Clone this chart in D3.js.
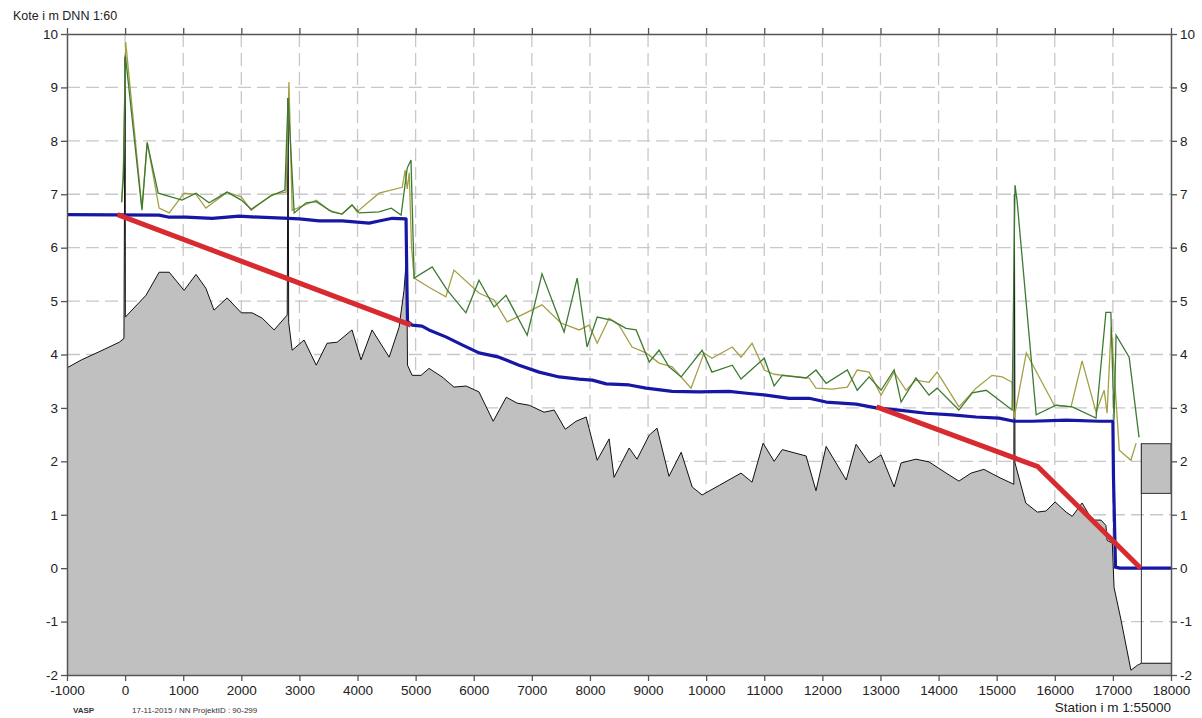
<!DOCTYPE html>
<html>
<head>
<meta charset="utf-8">
<script src="https://cdn.jsdelivr.net/npm/d3@7"></script>
<style>
  html, body { margin: 0; padding: 0; background: #fff; }
  svg { display: block; font-family: "Liberation Sans", Arial, sans-serif; }
</style>
</head>
<body>
<svg id="chart" width="1202" height="718"></svg>
<script>
// Longitudinal profile: station (m) vs. elevation (m DNN)

const stationTicks = d3.range(-1000, 18001, 1000);
const levelTicks = d3.range(-2, 11, 1);

// Terrain / river bed, including bridge structures as narrow spikes
const terrain = [
  [-1000,3.75],[-750,3.9],[-450,4.05],[-100,4.23],[-20,4.3],[0,9.57],[4,4.7],
  [360,5.11],[585,5.54],[760,5.54],[1015,5.2],[1220,5.5],[1390,5.24],[1530,4.83],
  [1755,5.06],[2000,4.78],[2185,4.78],[2360,4.68],[2565,4.46],[2790,4.74],
  [2805,8.8],[2815,4.6],[2875,4.08],[3080,4.27],[3290,3.8],[3475,4.21],[3650,4.23],
  [3905,4.46],[4060,3.9],[4250,4.46],[4545,3.95],[4715,4.51],[4800,5.2],[4845,5.85],
  [4860,3.8],[4940,3.61],[5095,3.61],[5230,3.74],[5455,3.58],[5660,3.39],[5870,3.41],
  [6090,3.30],[6335,2.75],[6560,3.20],[6745,3.09],[6955,3.05],[7210,2.92],[7385,2.96],
  [7575,2.60],[7760,2.75],[7935,2.83],[8125,2.02],[8330,2.42],[8415,1.70],[8675,2.25],
  [8810,2.04],[9020,2.49],[9155,2.62],[9360,1.72],[9570,2.17],[9760,1.52],[9930,1.37],
  [10225,1.55],[10600,1.78],[10790,1.61],[10980,2.34],[11170,2.00],[11310,2.22],
  [11720,2.10],[11890,1.45],[12065,2.28],[12410,1.65],[12580,2.32],[12805,1.97],
  [13010,2.12],[13235,1.52],[13355,1.97],[13610,2.04],[13835,1.99],[14130,1.78],
  [14350,1.63],[14560,1.78],[14780,1.85],[15040,1.70],[15295,1.57],[15305,7.0],
  [15315,1.97],[15500,1.22],[15700,1.05],[15850,1.07],[16005,1.24],[16195,1.05],
  [16300,0.97],[16470,1.22],[16645,0.90],[16795,0.90],[16880,0.80],[16900,0.52],
  [16990,0.47],[17020,-0.36],[17140,-0.97],[17310,-1.91],[17420,-1.82],[17490,-1.78],
  [18000,-1.78]
];

// Computed water level
const waterLevel = [
  [-1000,6.62],[585,6.61],[760,6.57],[1050,6.57],[1500,6.55],[1960,6.59],[2300,6.57],
  [2820,6.55],[3000,6.54],[3340,6.50],[3735,6.50],[4200,6.46],[4370,6.50],[4600,6.55],
  [4835,6.54],[4850,5.3],[4860,4.62],[4940,4.55],[5110,4.53],[5230,4.46],[5520,4.33],
  [5800,4.18],[6090,4.03],[6435,3.95],[6780,3.80],[7125,3.67],[7470,3.58],[7815,3.54],
  [8040,3.52],[8280,3.45],[8675,3.43],[8965,3.37],[9415,3.31],[9880,3.30],[10395,3.31],
  [10740,3.27],[11030,3.24],[11430,3.18],[11770,3.18],[12065,3.11],[12580,3.07],
  [12925,3.00],[13320,2.96],[13785,2.90],[14230,2.87],[14645,2.83],[15040,2.81],
  [15300,2.75],[15610,2.75],[16195,2.77],[16760,2.75],[17000,2.75],[17010,1.7],
  [17045,0.02],[17120,0.0],[18000,0.0]
];

// Design gradient lines
const gradientUpper = [[-130,6.62],[4920,4.55]];
const gradientLower = [[12930,3.02],[15710,1.90],[17480,0.0]];

// Left bank crest
const bankLeft = [
  [-60,6.85],[-30,7.3],[5,9.6],[290,6.70],[380,7.96],[570,7.02],[980,6.89],[1220,7.02],
  [1445,6.84],[1755,7.04],[2000,6.89],[2170,6.72],[2530,6.98],[2750,7.08],[2805,8.8],
  [2910,6.65],[3115,6.84],[3290,6.86],[3560,6.67],[3735,6.63],[3905,6.80],[4030,6.65],
  [4370,6.67],[4580,6.74],[4750,6.61],[4855,7.49],[4920,7.64],[4975,5.43],[5285,5.64],
  [5540,5.21],[5865,4.78],[6090,5.39],[6350,4.89],[6555,5.11],[6920,4.36],[7175,5.51],
  [7555,4.42],[7780,5.43],[7950,4.14],[8125,4.70],[8380,4.64],[8620,4.49],[8795,4.46],
  [9020,3.86],[9190,4.08],[9360,3.77],[9570,3.58],[9930,4.08],[10100,3.67],[10450,3.80],
  [10600,3.54],[11000,3.93],[11170,3.41],[11310,3.61],[11720,3.56],[11890,3.71],
  [12065,3.46],[12430,3.71],[12600,3.33],[12805,3.58],[13010,3.33],[13235,3.71],
  [13355,3.11],[13610,3.56],[13835,3.24],[13975,3.37],[14350,2.96],[14580,3.28],
  [14820,3.33],[15040,3.15],[15265,2.96],[15315,7.17],[15350,6.89],[15680,2.87],
  [16020,3.05],[16300,3.02],[16710,2.81],[16880,4.79],[16965,4.79],[17020,2.77],
  [17055,4.36],[17280,3.95],[17450,2.45]
];

// Right bank crest
const bankRight = [
  [-60,6.85],[-30,7.5],[10,9.85],[290,6.74],[380,7.98],[585,6.74],[760,6.65],[1015,7.02],
  [1220,7.00],[1390,6.74],[1755,7.04],[2000,6.95],[2170,6.70],[2530,7.00],[2770,7.04],
  [2820,9.10],[2875,6.70],[3290,6.89],[3510,6.70],[3735,6.63],[3905,6.80],[3990,6.67],
  [4370,7.02],[4770,7.13],[4820,7.45],[4855,7.1],[4890,7.4],[4930,6.0],[4975,5.43],
  [5230,5.26],[5520,5.08],[5660,5.58],[6090,5.15],[6350,5.02],[6575,4.61],[6900,4.78],
  [7175,4.93],[7500,4.59],[7815,4.46],[7985,4.55],[8125,4.21],[8330,4.68],[8500,4.55],
  [8725,4.14],[8965,4.03],[9190,3.84],[9415,3.77],[9740,3.37],[9965,4.03],[10100,3.93],
  [10450,4.14],[10600,3.95],[10790,4.21],[11000,3.71],[11170,3.63],[11770,3.56],
  [11890,3.37],[12170,3.35],[12430,3.39],[12600,3.71],[12805,3.67],[13010,3.24],
  [13235,3.67],[13440,3.33],[13610,3.52],[13835,3.48],[13975,3.67],[14350,3.02],
  [14645,3.37],[14920,3.61],[15095,3.58],[15265,3.48],[15300,2.81],[15510,4.03],
  [15990,3.05],[16280,3.02],[16470,3.88],[16710,2.92],[16850,3.33],[16900,2.90],
  [16970,4.51],[17020,3.71],[17110,2.21],[17310,2.02],[17400,2.34]
];

// Outlet structure at the downstream end: [station from, station to, bottom, top]
const outletBox = [17490, 18000, 1.4, 2.33];
const outletWall = [17490, -1.78, 2.33];

const svg = d3.select("#chart");
const plotLeft = 67, plotRight = 1171, plotTop = 34, plotBottom = 675;

const x = d3.scaleLinear().domain([-1000, 18000]).range([plotLeft, plotRight]);
const y = d3.scaleLinear().domain([-2, 10]).range([plotBottom, plotTop]);

// Plain integer labels with an ASCII hyphen for negatives
const intLabel = d => String(d);

// Dashed grid
const grid = svg.append("g").attr("stroke", "#c8c8c8").attr("stroke-width", 1.3)
  .attr("stroke-dasharray", "13,6");
grid.selectAll("line.v").data(stationTicks.slice(1, -1)).join("line").attr("class", "v")
  .attr("x1", d => x(d)).attr("x2", d => x(d)).attr("y1", plotTop).attr("y2", plotBottom);
grid.selectAll("line.h").data(levelTicks.slice(1, -1)).join("line").attr("class", "h")
  .attr("x1", plotLeft).attr("x2", plotRight).attr("y1", d => y(d)).attr("y2", d => y(d));

// Terrain
const area = d3.area().x(d => x(d[0])).y0(y(-2)).y1(d => y(d[1]));
const line = d3.line().x(d => x(d[0])).y(d => y(d[1]));

svg.append("path").datum(terrain).attr("d", area).attr("fill", "#c0c0c0");
svg.append("path").datum(terrain).attr("d", line)
  .attr("fill", "none").attr("stroke", "#111").attr("stroke-width", 1);

// Outlet structure
svg.append("line")
  .attr("x1", x(outletWall[0])).attr("x2", x(outletWall[0]))
  .attr("y1", y(outletWall[1])).attr("y2", y(outletWall[2]))
  .attr("stroke", "#333").attr("stroke-width", 1);
svg.append("rect")
  .attr("x", x(outletBox[0])).attr("y", y(outletBox[3]))
  .attr("width", x(outletBox[1]) - x(outletBox[0]))
  .attr("height", y(outletBox[2]) - y(outletBox[3]))
  .attr("fill", "#c0c0c0").attr("stroke", "#333").attr("stroke-width", 1);

// Bank crest lines
svg.append("path").datum(bankRight).attr("d", line)
  .attr("fill", "none").attr("stroke", "#a3a046").attr("stroke-width", 1.3);
svg.append("path").datum(bankLeft).attr("d", line)
  .attr("fill", "none").attr("stroke", "#3d7a32").attr("stroke-width", 1.3);

// Water level
svg.append("path").datum(waterLevel).attr("d", line)
  .attr("fill", "none").attr("stroke", "#1717a6").attr("stroke-width", 3.2)
  .attr("stroke-linejoin", "round");

// Design gradient
[gradientUpper, gradientLower].forEach(seg => {
  svg.append("path").datum(seg).attr("d", line)
    .attr("fill", "none").attr("stroke", "#d82b30").attr("stroke-width", 5)
    .attr("stroke-linejoin", "round");
});

// Axes
function styleAxis(g) {
  g.selectAll(".domain").attr("stroke", "#555").attr("stroke-width", 1.5);
  g.selectAll(".tick line").attr("stroke", "#555").attr("stroke-width", 1.3);
  g.selectAll(".tick text").attr("fill", "#222").attr("font-size", 13.5)
    .attr("font-family", "'Liberation Sans', Arial, sans-serif");
}

svg.append("g").attr("transform", `translate(0,${plotBottom})`)
  .call(d3.axisBottom(x).tickValues(stationTicks).tickFormat(intLabel)
    .tickSize(6).tickSizeOuter(0).tickPadding(4))
  .call(styleAxis);
svg.append("g").attr("transform", `translate(0,${plotTop})`)
  .call(d3.axisTop(x).tickValues(stationTicks).tickFormat("")
    .tickSize(6).tickSizeOuter(0))
  .call(styleAxis);
svg.append("g").attr("transform", `translate(${plotLeft},0)`)
  .call(d3.axisLeft(y).tickValues(levelTicks).tickFormat(intLabel)
    .tickSize(6).tickSizeOuter(0).tickPadding(3))
  .call(styleAxis);
svg.append("g").attr("transform", `translate(${plotRight},0)`)
  .call(d3.axisRight(y).tickValues(levelTicks).tickFormat(intLabel)
    .tickSize(6).tickSizeOuter(0).tickPadding(3))
  .call(styleAxis);

// Titles and footer
svg.append("text").attr("x", 13).attr("y", 20)
  .attr("font-size", 12.5).attr("fill", "#222").text("Kote i m DNN 1:60");
svg.append("text").attr("x", 1171).attr("y", 712).attr("text-anchor", "end")
  .attr("font-size", 13.5).attr("fill", "#222").text("Station i m  1:55000");
svg.append("text").attr("x", 73).attr("y", 713)
  .attr("font-size", 8).attr("font-weight", "bold").attr("fill", "#333").text("VASP");
svg.append("text").attr("x", 132).attr("y", 713)
  .attr("font-size", 8).attr("fill", "#333").text("17-11-2015 / NN   ProjektID : 90-299");
</script>
</body>
</html>
